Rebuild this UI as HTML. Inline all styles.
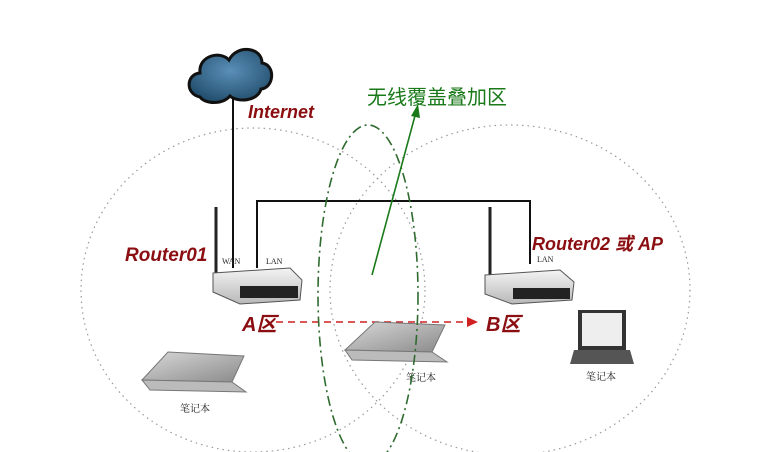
<!DOCTYPE html>
<html><head><meta charset="utf-8"><style>
html,body{margin:0;padding:0;background:#fff;}
svg{display:block;}
.lbl{font-family:"Liberation Sans","Noto Sans CJK SC",sans-serif;font-weight:bold;font-style:italic;fill:#8b0f12;}
.sm{font-family:"Liberation Serif","Noto Serif CJK SC",serif;fill:#222;}
</style></head><body>
<svg width="776" height="452" viewBox="0 0 776 452" xmlns="http://www.w3.org/2000/svg">
<defs>
<linearGradient id="lap" x1="0" y1="0" x2="1" y2="1"><stop offset="0" stop-color="#d8d8d8"/><stop offset="1" stop-color="#8a8a8a"/></linearGradient>
<linearGradient id="rt" x1="0" y1="0" x2="0" y2="1"><stop offset="0" stop-color="#f4f4f4"/><stop offset="1" stop-color="#b8b8b8"/></linearGradient>
<radialGradient id="cl" cx="0.5" cy="0.4" r="0.6"><stop offset="0" stop-color="#5a8fb8"/><stop offset="1" stop-color="#24506f"/></radialGradient>
</defs>
<ellipse cx="253" cy="290" rx="172" ry="162" fill="none" stroke="#999" stroke-width="1.2" stroke-dasharray="1.5 4"/>
<ellipse cx="510" cy="290" rx="180" ry="165" fill="none" stroke="#999" stroke-width="1.2" stroke-dasharray="1.5 4"/>
<line x1="233" y1="98" x2="233" y2="268" stroke="#111" stroke-width="2"/>
<polyline points="257,268 257,201 530,201 530,264" fill="none" stroke="#111" stroke-width="2"/>
<g stroke="#111" stroke-width="3" fill="url(#cl)">
<path d="M200,97 C185,94 186,74 200,73 C198,56 220,50 229,60 C237,44 262,47 262,63 C276,65 274,88 261,89 C258,101 238,103 230,96 C222,105 205,104 200,97 Z"/>
</g>
<text x="248" y="118" class="lbl" font-size="18">Internet</text>
<line x1="216" y1="207" x2="216" y2="275" stroke="#222" stroke-width="3"/>
<path d="M213,273 L290,268 L302,280 L300,300 L240,304 L213,292 Z" fill="url(#rt)" stroke="#555"/>
<rect x="240" y="286" width="58" height="12" fill="#222"/>
<text x="222" y="264" class="sm" font-size="8">WAN</text>
<text x="266" y="264" class="sm" font-size="8">LAN</text>
<line x1="490" y1="207" x2="490" y2="276" stroke="#222" stroke-width="3"/>
<path d="M485,275 L560,270 L574,282 L572,300 L512,304 L485,294 Z" fill="url(#rt)" stroke="#555"/>
<rect x="513" y="288" width="57" height="11" fill="#222"/>
<text x="537" y="262" class="sm" font-size="8">LAN</text>
<text x="125" y="261" class="lbl" font-size="19">Router01</text>
<text x="532" y="250" class="lbl" font-size="18">Router02 或 AP</text>
<text x="242" y="331" class="lbl" font-size="20">A区</text>
<text x="486" y="331" class="lbl" font-size="20">B区</text>
<line x1="276" y1="322" x2="468" y2="322" stroke="#d02020" stroke-width="1.5" stroke-dasharray="7 5"/>
<path d="M467,317 L478,322 L467,327 Z" fill="#d02020"/>
<path d="M168,352 L244,356 L232,382 L142,380 Z" fill="url(#lap)" stroke="#777"/>
<path d="M142,380 L232,382 L246,392 L150,390 Z" fill="#bbb" stroke="#777"/>
<text x="180" y="412" class="sm" font-size="10">笔记本</text>
<path d="M375,322 L445,325 L432,352 L345,350 Z" fill="url(#lap)" stroke="#777"/>
<path d="M345,350 L432,352 L447,362 L352,360 Z" fill="#bbb" stroke="#777"/>
<text x="406" y="381" class="sm" font-size="10">笔记本</text>
<rect x="578" y="310" width="48" height="40" fill="#333"/>
<rect x="582" y="313" width="40" height="33" fill="#eee"/>
<path d="M574,350 L630,350 L634,364 L570,364 Z" fill="#555"/>
<text x="586" y="380" class="sm" font-size="10">笔记本</text>
<ellipse cx="368" cy="295" rx="50" ry="170" fill="none" stroke="#2f6b2f" stroke-width="1.6" stroke-dasharray="10 4 2 4"/>
<line x1="372" y1="275" x2="416" y2="112" stroke="#1a7a1a" stroke-width="1.6"/>
<path d="M411,116 L418,104 L420,118 Z" fill="#1a7a1a"/>
<text x="367" y="104" font-family="'Liberation Sans','Noto Sans CJK SC',sans-serif" font-size="20" fill="#1a7a1a">无线覆盖叠加区</text>
</svg>
</body></html>
